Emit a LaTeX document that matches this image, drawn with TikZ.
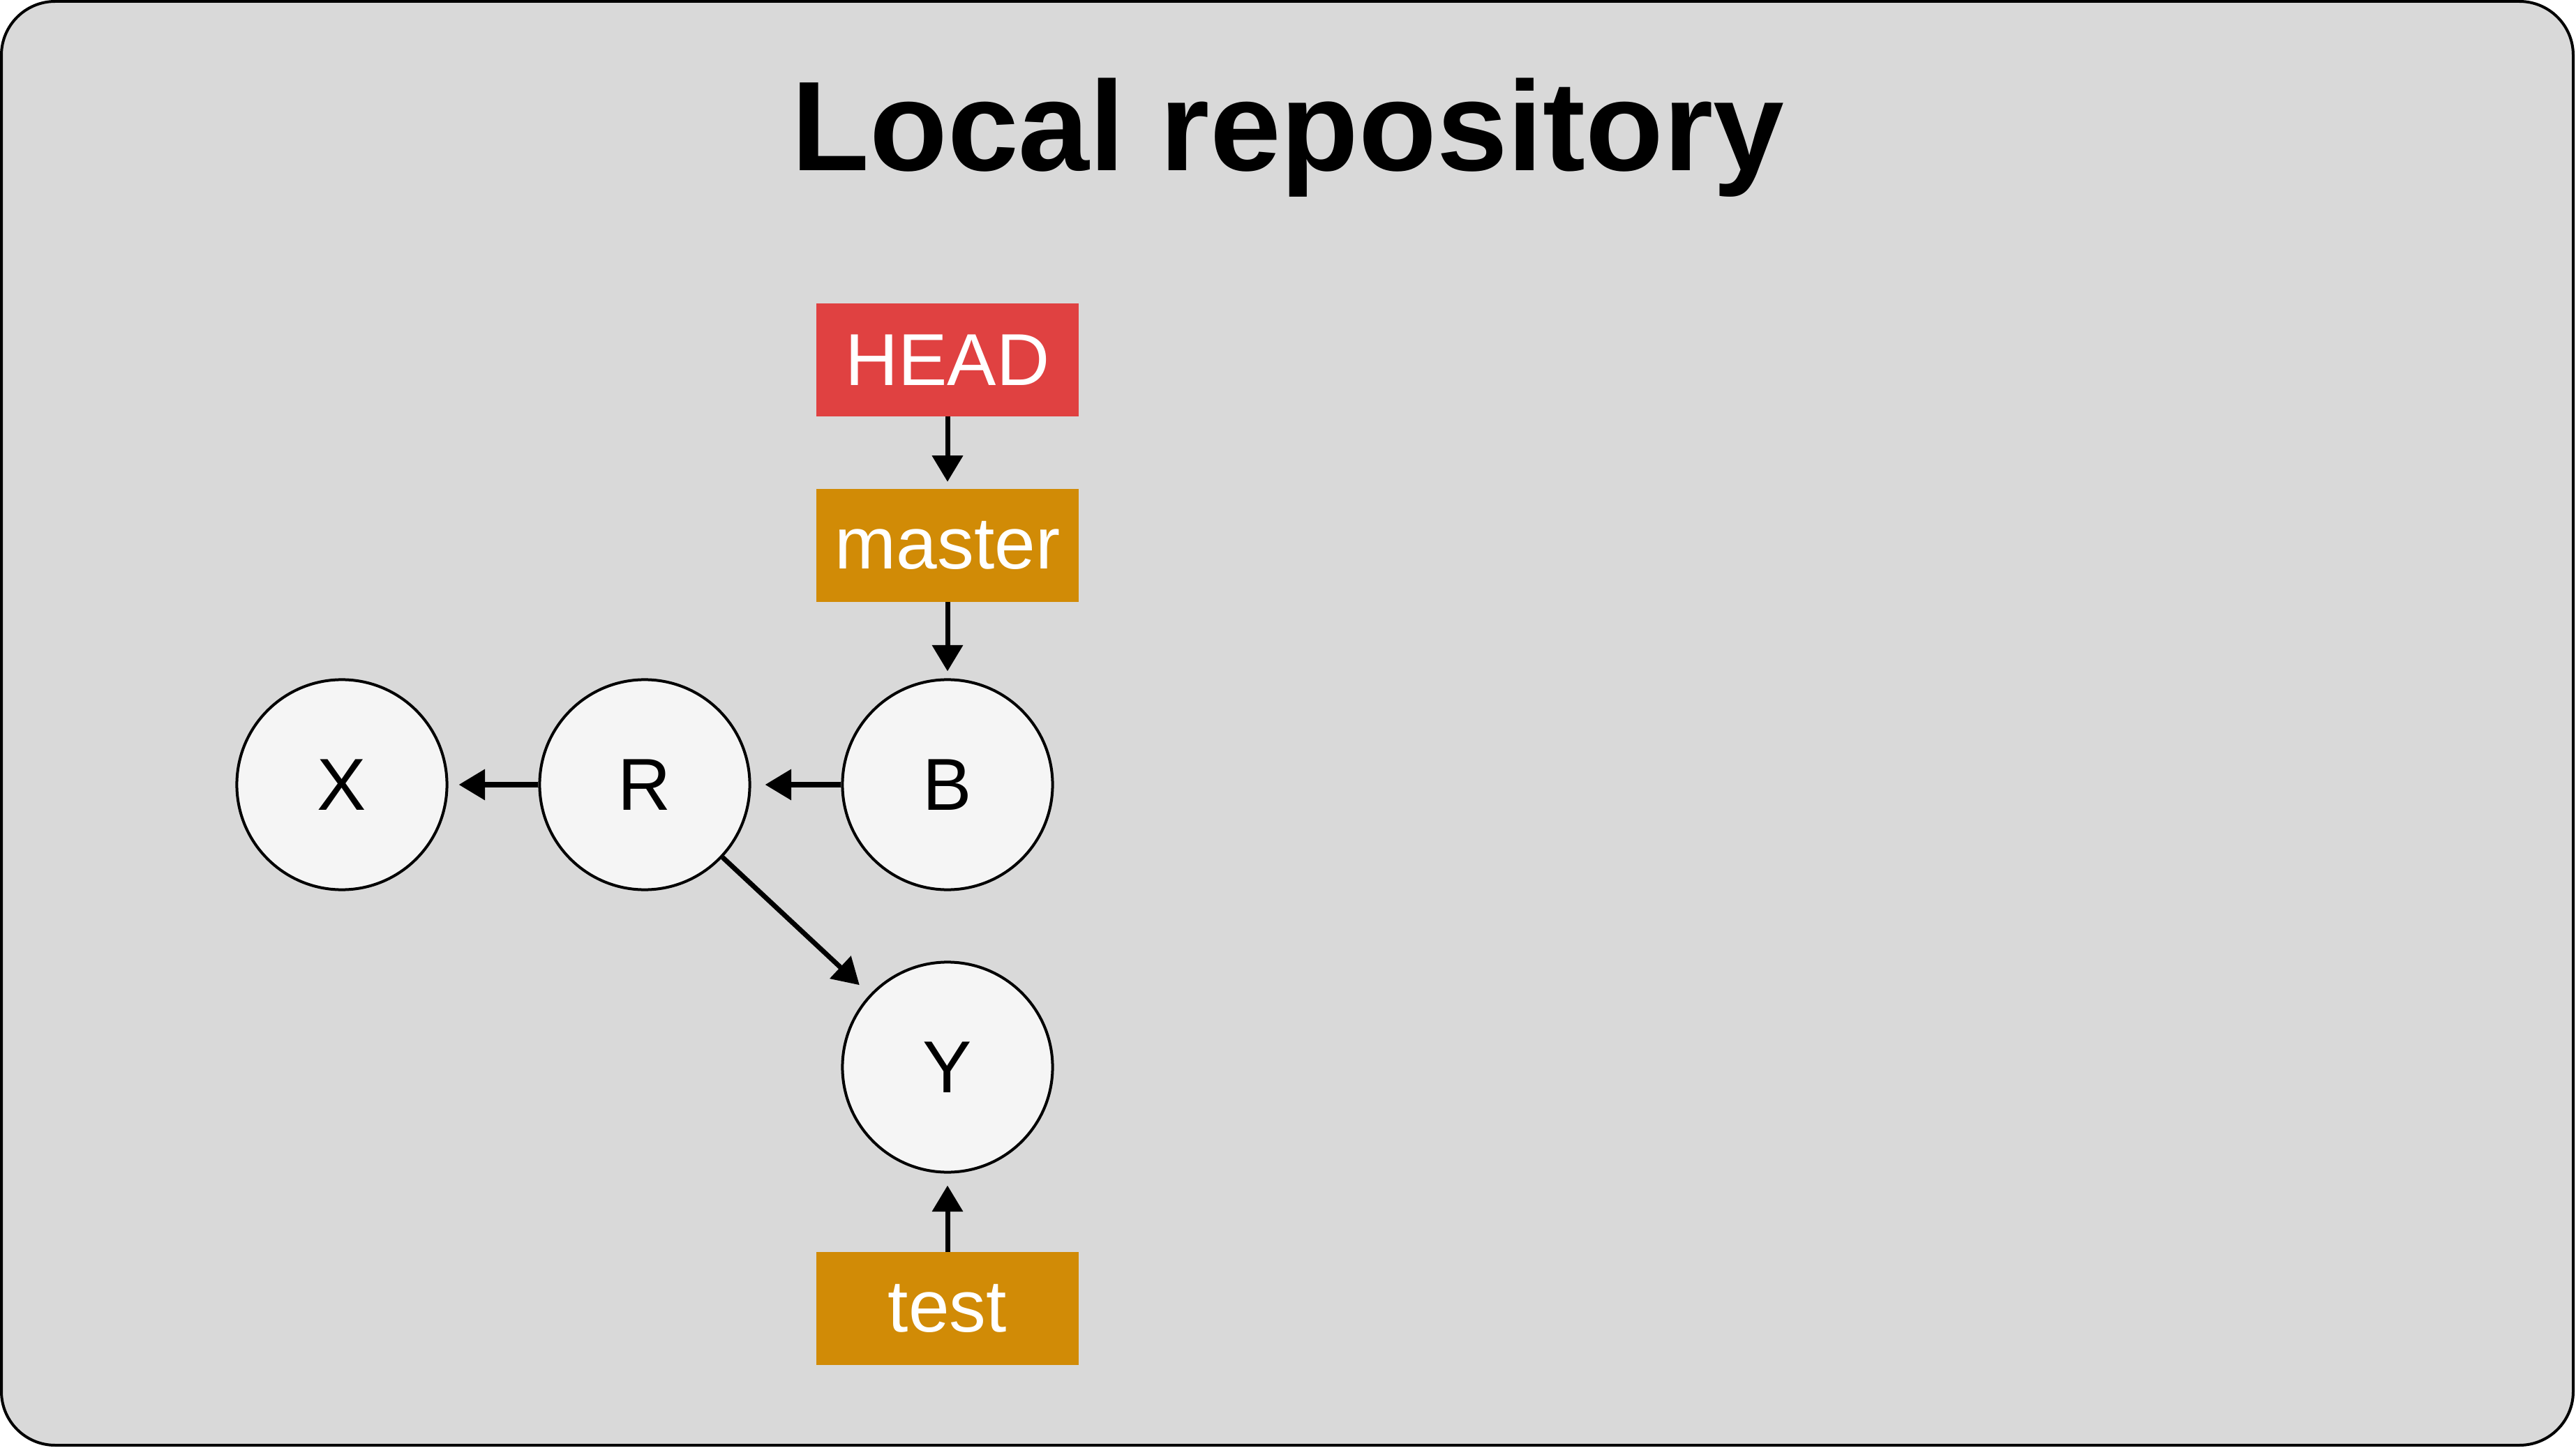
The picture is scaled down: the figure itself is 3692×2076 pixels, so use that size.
\documentclass[tikz,border=0pt]{standalone}
\usepackage{fontspec}
\setmainfont{Liberation Sans}
\usetikzlibrary{arrows.meta}
\definecolor{bg}{HTML}{D9D9D9}
\definecolor{headred}{HTML}{E04141}
\definecolor{branch}{HTML}{D18B06}
\definecolor{commitfill}{HTML}{F5F5F5}
\tikzset{
  frame/.style={draw=black, line width=0.04cm, fill=bg, rounded corners=0.77cm},
  refbox/.style={rectangle, minimum width=3.76cm, minimum height=1.61cm, inner sep=0pt, text=white, font=\fontsize{30}{36}\selectfont},
  headref/.style={refbox, fill=headred},
  branchref/.style={refbox, fill=branch},
  commit/.style={circle, draw=black, line width=0.04cm, fill=commitfill, minimum size=3.01cm, inner sep=0pt, font=\fontsize{30}{36}\selectfont},
  arr/.style={line width=0.07cm, -{Triangle[length=0.375cm, width=0.43cm]}, shorten >=0.15cm},
  titletext/.style={font=\fontsize{52}{60}\selectfont\bfseries, anchor=base, inner sep=0pt}
}
\begin{document}
\begin{tikzpicture}[x=0.01cm, y=-0.01cm]
  \useasboundingbox (0,0) rectangle (3692,2076);
  \draw[frame] (2,2) rectangle (3688,2072);
  \node[titletext] (title) at (1846,245) {Local repository};
  \node[headref] (head) at (1358,516) {HEAD};
  \node[branchref] (master) at (1358,782) {master};
  \node[commit] (B) at (1358,1125) {B};
  \node[commit] (R) at (924,1125) {R};
  \node[commit] (X) at (490,1125) {X};
  \node[commit] (Y) at (1358,1530) {Y};
  \node[branchref] (test) at (1358,1876) {test};
  \draw[arr, shorten >=0.10cm] (head) -- (master);
  \draw[arr, shorten >=0.10cm] (master) -- (B);
  \draw[arr, shorten >=0.20cm] (B) -- (R);
  \draw[arr] (R) -- (X);
  \draw[arr, shorten >=0.20cm] (R) -- (Y);
  \draw[arr, shorten >=0.17cm] (test) -- (Y);
\end{tikzpicture}
\end{document}
